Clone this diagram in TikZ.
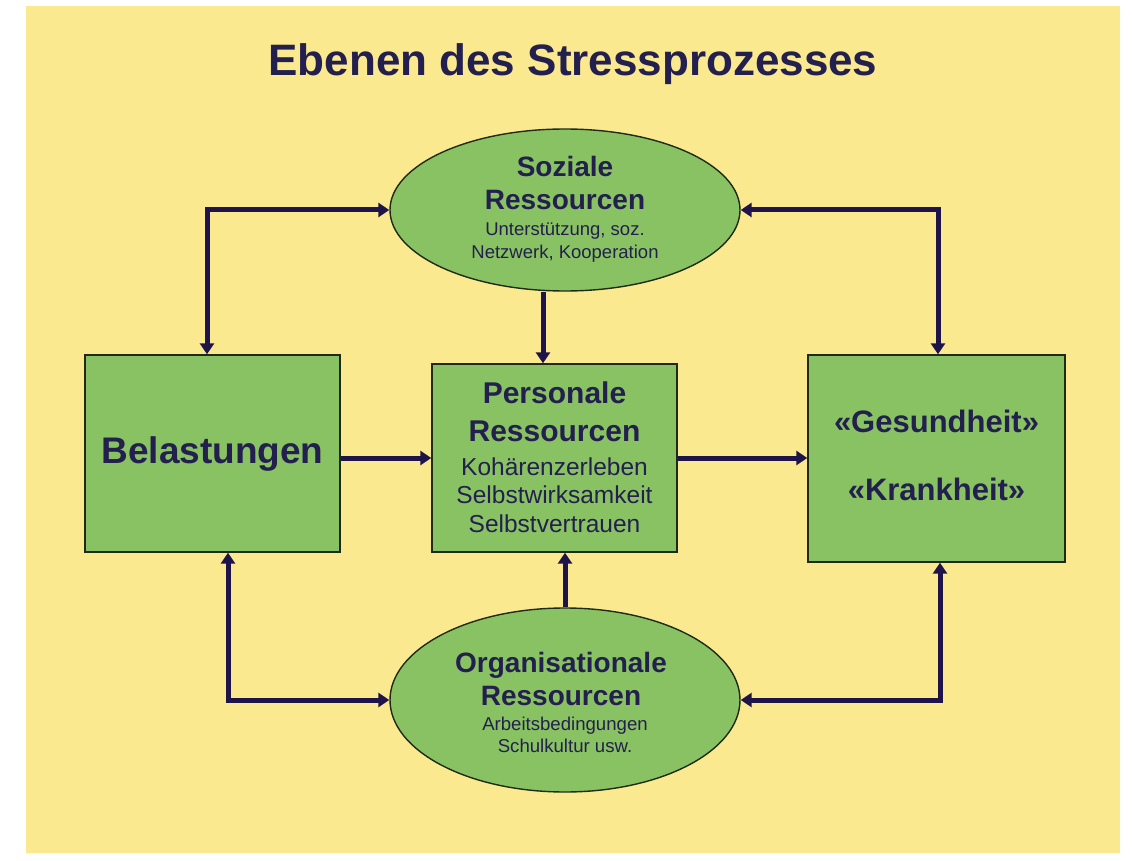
\documentclass[tikz,border=0pt]{standalone}
\usepackage{fontspec}
\setmainfont{Liberation Sans}
\usetikzlibrary{arrows.meta,shapes.geometric}
\definecolor{bgyellow}{HTML}{FAE98E}
\definecolor{boxgreen}{HTML}{89C262}
\definecolor{navytext}{HTML}{231F4F}
\definecolor{arrowcol}{HTML}{1F1449}
\definecolor{edgecol}{HTML}{1E2A1A}
\tikzset{
  greenbox/.style={draw=edgecol, line width=1.4pt, fill=boxgreen, inner sep=0pt},
  greenell/.style={ellipse, draw=edgecol, line width=1.4pt, fill=boxgreen, inner sep=0pt},
  txt/.style={text=navytext, anchor=base, inner sep=0pt},
  arr/.style={draw=arrowcol, line width=5pt, line join=miter,
     arrows={-{Triangle[length=11pt,width=14pt]}}},
  darr/.style={draw=arrowcol, line width=5pt, line join=miter,
     arrows={{Triangle[length=11pt,width=14pt]}-{Triangle[length=11pt,width=14pt]}}}
}
\begin{document}
\begin{tikzpicture}[x=1pt,y=-1pt]
\useasboundingbox (0,0) rectangle (1133,861);
\fill[white] (0,0) rectangle (1133,861);
\fill[bgyellow] (26,6) rectangle (1120,853);

\node[txt, font=\bfseries\fontsize{44}{50}\selectfont] (title) at (573,76) {Ebenen des Stressprozesses};

% shapes
\node[greenell, minimum width=350pt, minimum height=162pt] (S) at (565,210) {};
\node[greenell, minimum width=350pt, minimum height=184pt] (O) at (565,700) {};
\node[greenbox, minimum width=255pt, minimum height=197pt] (B) at (212.5,453.5) {};
\node[greenbox, minimum width=245pt, minimum height=188pt] (P) at (554.5,458) {};
\node[greenbox, minimum width=257pt, minimum height=207pt] (G) at (936.5,458.5) {};

% texts
\node[txt, font=\bfseries\fontsize{28}{32}\selectfont] (s1) at (565,177) {Soziale};
\node[txt, font=\bfseries\fontsize{28}{32}\selectfont] (s2) at (565,210) {Ressourcen};
\node[txt, font=\fontsize{18.5}{22}\selectfont] (s3) at (565,236) {Unterstützung, soz.};
\node[txt, font=\fontsize{18.5}{22}\selectfont] (s4) at (565,259) {Netzwerk, Kooperation};

\node[txt, font=\bfseries\fontsize{28}{32}\selectfont] (o1) at (561,672) {Organisationale};
\node[txt, font=\bfseries\fontsize{28}{32}\selectfont] (o2) at (561,705) {Ressourcen};
\node[txt, font=\fontsize{18.6}{22}\selectfont] (o3) at (565,730) {Arbeitsbedingungen};
\node[txt, font=\fontsize{18.6}{22}\selectfont] (o4) at (565,752) {Schulkultur usw.};

\node[txt, font=\bfseries\fontsize{37}{42}\selectfont] (b1) at (212.5,463) {Belastungen};

\node[txt, font=\bfseries\fontsize{30}{34}\selectfont] (p1) at (554.5,403) {Personale};
\node[txt, font=\bfseries\fontsize{30}{34}\selectfont] (p2) at (554.5,441) {Ressourcen};
\node[txt, font=\fontsize{24.5}{28}\selectfont] (p3) at (554.5,475) {Kohärenzerleben};
\node[txt, font=\fontsize{24.5}{28}\selectfont] (p4) at (554.5,503) {Selbstwirksamkeit};
\node[txt, font=\fontsize{24.5}{28}\selectfont] (p5) at (554.5,532) {Selbstvertrauen};

\node[txt, font=\bfseries\fontsize{31}{35}\selectfont] (g1) at (936.5,432) {«Gesundheit»};
\node[txt, font=\bfseries\fontsize{31}{35}\selectfont] (g2) at (936.5,500) {«Krankheit»};

% connectors
\draw[arr] (B.east |- P.west) -- (P.west);
\draw[arr] (P.east) -- (G.west |- P.east);
\draw[arr] ([xshift=-22pt]S.south) -- ([xshift=-22pt]S.south |- P.north);
\draw[arr] (O.north) -- (O.north |- P.south);
\draw[darr] ([xshift=-5.5pt]B.north) |- (S.west);
\draw[darr] (S.east) -| ([xshift=1.5pt]G.north);
\draw[darr] ([xshift=15.5pt]B.south) |- (O.west);
\draw[darr] (O.east) -| ([xshift=3.5pt]G.south);
\end{tikzpicture}
\end{document}
